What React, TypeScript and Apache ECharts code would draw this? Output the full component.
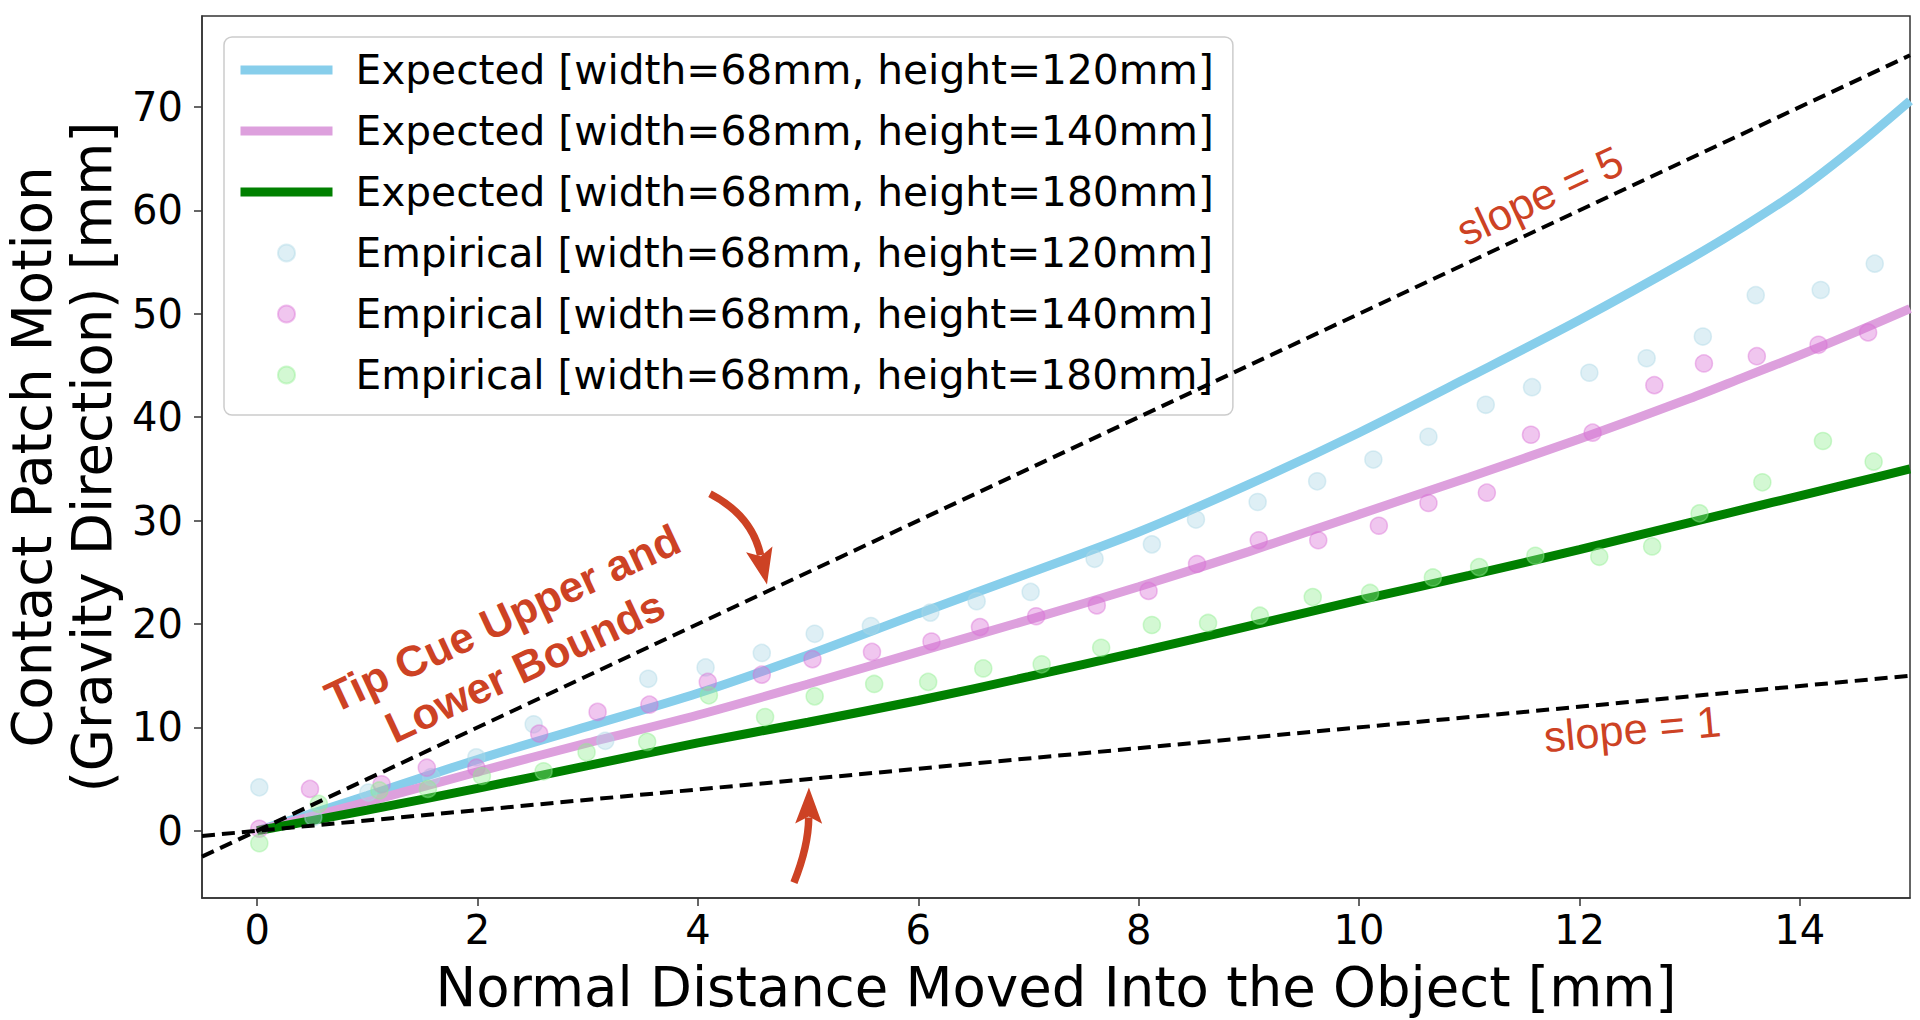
import React, { useEffect, useRef } from "react";
import * as echarts from "echarts";

// ---------- data ----------
const xTicks = [0, 2, 4, 6, 8, 10, 12, 14];
const yTicks = [0, 10, 20, 30, 40, 50, 60, 70];

const curveX = [0, 1, 2, 3, 4, 5, 6, 7, 8, 9, 10, 11, 12, 13, 13.5, 14, 14.5, 15];
const expected120 = [0, 3.4, 6.9, 10.1, 13.3, 17.0, 21.0, 24.9, 28.9, 33.5, 38.5, 43.9, 49.4, 55.3, 58.5, 62.0, 66.1, 70.6];
const expected140 = [0, 2.8, 5.7, 8.5, 11.2, 14.2, 17.3, 20.4, 23.6, 27.0, 30.6, 34.2, 37.9, 41.8, 43.9, 46.0, 48.2, 50.5];
const expected180 = [0, 2.0, 4.1, 6.3, 8.5, 10.5, 12.6, 14.9, 17.3, 19.8, 22.3, 24.7, 27.2, 29.8, 31.1, 32.4, 33.7, 35.0];

const emp120X = [0.02, 0.51, 1.01, 1.58, 1.99, 2.51, 3.16, 3.55, 4.07, 4.58, 5.06, 5.57, 6.11, 6.53, 7.02, 7.6, 8.12, 8.52, 9.08, 9.62, 10.13, 10.63, 11.15, 11.57, 12.09, 12.61, 13.12, 13.6, 14.19, 14.68];
const emp120Y = [4.2, 1.3, 3.7, 5.2, 7.1, 10.3, 8.7, 14.7, 15.8, 17.2, 19.05, 19.8, 21.1, 22.2, 23.1, 26.3, 27.7, 30.1, 31.8, 33.8, 35.9, 38.1, 41.2, 42.9, 44.3, 45.7, 47.8, 51.8, 52.3, 54.85];

const emp140X = [0.02, 0.48, 1.13, 1.54, 1.99, 2.56, 3.09, 3.56, 4.09, 4.58, 5.04, 5.58, 6.12, 6.56, 7.07, 7.62, 8.09, 8.53, 9.09, 9.63, 10.18, 10.63, 11.16, 11.56, 12.12, 12.68, 13.13, 13.61, 14.17, 14.62];
const emp140Y = [0.2, 4.05, 4.5, 6.1, 6.1, 9.4, 11.5, 12.2, 14.4, 15.1, 16.6, 17.3, 18.3, 19.7, 20.75, 21.8, 23.2, 25.8, 28.1, 28.1, 29.5, 31.7, 32.7, 38.3, 38.5, 43.1, 45.2, 45.9, 47.0, 48.2];

const emp180X = [0.02, 0.56, 1.11, 1.55, 2.04, 2.6, 2.99, 3.54, 4.1, 4.61, 5.06, 5.6, 6.09, 6.59, 7.12, 7.66, 8.12, 8.63, 9.1, 9.58, 10.1, 10.67, 11.09, 11.6, 12.18, 12.66, 13.09, 13.66, 14.21, 14.67];
const emp180Y = [-1.2, 2.6, 3.9, 4.05, 5.3, 5.75, 7.6, 8.6, 13.1, 11.0, 13.0, 14.2, 14.4, 15.7, 16.1, 17.7, 19.9, 20.1, 20.8, 22.6, 23.0, 24.5, 25.5, 26.6, 26.5, 27.5, 30.7, 33.7, 37.7, 35.7];

const boundX = [-0.5, 15];
const upperBound = [-2.5, 75];
const lowerBound = [-0.5, 15];

const names = [
  "Expected [width=68mm, height=120mm]",
  "Expected [width=68mm, height=140mm]",
  "Expected [width=68mm, height=180mm]",
  "Empirical [width=68mm, height=120mm]",
  "Empirical [width=68mm, height=140mm]",
  "Empirical [width=68mm, height=180mm]",
];

// annotation anchors in data coordinates
const upperArrow = { tail: [4.11, 32.6], ctrl: [4.49, 30.5], tip: [4.627, 23.82] };
const lowerArrow = { tail: [4.872, -5.01], ctrl: [5.004, -1.5], tip: [5.008, 4.18] };
const slope5Label = { text: "slope = 5", at: [11.64, 61.4], angle: 25 };
const slope1Label = { text: "slope = 1", at: [12.48, 9.83], angle: 5.2 };
const tipLabel = { text: "Tip Cue Upper and\nLower Bounds", at: [2.33, 18.2], angle: 25 };

const RED = "#cd4224";
const FONT = "DejaVu Sans";

const zip = (xs: number[], ys: number[]) => xs.map((x, i) => [x, ys[i]]);

export default function App() {
  const ref = useRef<HTMLDivElement>(null);

  useEffect(() => {
    if (!ref.current) return;
    const chart = echarts.init(ref.current, null, { renderer: "svg" });

    const lineSeries = (name: string, ys: number[], color: string) => ({
      name,
      type: "line",
      data: zip(curveX, ys),
      smooth: 0.3,
      symbol: "none",
      lineStyle: { color, width: 9 },
      itemStyle: { color },
      z: 2,
    });
    const scatterSeries = (name: string, xs: number[], ys: number[], rgb: string) => ({
      name,
      type: "scatter",
      data: zip(xs, ys),
      symbol: "circle",
      symbolSize: 17,
      itemStyle: { color: `rgba(${rgb},0.5)`, borderColor: `rgba(${rgb},0.55)`, borderWidth: 1.5 },
      z: 3,
    });
    const dashSeries = (name: string, ys: number[]) => ({
      name,
      type: "line",
      data: zip(boundX, ys),
      symbol: "none",
      lineStyle: { color: "#000", width: 4, type: [13, 7] },
      z: 4,
    });

    const option: any = {
      animation: false,
      backgroundColor: "#ffffff",
      grid: {
        left: 202,
        right: 10,
        top: 16,
        bottom: 122,
        show: true,
        borderColor: "#333",
        borderWidth: 1.5,
        backgroundColor: "transparent",
      },
      xAxis: {
        type: "value",
        min: -0.5,
        max: 15,
        axisLine: { show: true, onZero: false, lineStyle: { color: "#333", width: 1.5 } },
        axisTick: { show: true, length: 8, customValues: xTicks, lineStyle: { color: "#333", width: 1.5 } },
        axisLabel: { customValues: xTicks, fontSize: 40, fontFamily: FONT, color: "#000", margin: 12 },
        splitLine: { show: false },
        name: "Normal Distance Moved Into the Object [mm]",
        nameLocation: "middle",
        nameGap: 61,
        nameTextStyle: { fontSize: 54.5, fontFamily: FONT, color: "#000" },
      },
      yAxis: {
        type: "value",
        min: -6.5,
        max: 78.8,
        axisLine: { show: true, onZero: false, lineStyle: { color: "#333", width: 1.5 } },
        axisTick: { show: true, length: 8, customValues: yTicks, lineStyle: { color: "#333", width: 1.5 } },
        axisLabel: { customValues: yTicks, fontSize: 40, fontFamily: FONT, color: "#000", margin: 19 },
        splitLine: { show: false },
      },
      legend: {
        orient: "vertical",
        left: 224,
        top: 37,
        align: "left",
        padding: [10, 19, 17, 12],
        itemWidth: 92,
        itemHeight: 17,
        itemGap: 15,
        backgroundColor: "rgba(255,255,255,0.8)",
        borderColor: "#cccccc",
        borderWidth: 1.5,
        borderRadius: 8,
        selectedMode: false,
        lineStyle: { width: "inherit" },
        textStyle: { fontSize: 40.7, fontFamily: FONT, color: "#000", lineHeight: 46, padding: [0, 0, 0, 18] },
        data: [
          { name: names[0], itemStyle: { opacity: 0 } },
          { name: names[1], itemStyle: { opacity: 0 } },
          { name: names[2], itemStyle: { opacity: 0 } },
          { name: names[3] },
          { name: names[4] },
          { name: names[5] },
        ],
      },
      series: [
        lineSeries(names[0], expected120, "#87CEEB"),
        lineSeries(names[1], expected140, "#DDA0DD"),
        lineSeries(names[2], expected180, "#008000"),
        scatterSeries(names[3], emp120X, emp120Y, "173,216,230"),
        scatterSeries(names[4], emp140X, emp140Y, "218,112,214"),
        scatterSeries(names[5], emp180X, emp180Y, "144,238,144"),
        dashSeries("upper bound", upperBound),
        dashSeries("lower bound", lowerBound),
      ],
    };
    chart.setOption(option);

    const toPx = (p: number[]) => chart.convertToPixel({ gridIndex: 0 }, p) as number[];

    const arrow = (a: { tail: number[]; ctrl: number[]; tip: number[] }) => {
      const P0 = toPx(a.tail);
      const C = toPx(a.ctrl);
      const T = toPx(a.tip);
      const dx = T[0] - C[0];
      const dy = T[1] - C[1];
      const len = Math.hypot(dx, dy) || 1;
      const ux = dx / len;
      const uy = dy / len;
      const L = 36;
      const W = 13.5;
      const bx = T[0] - ux * L;
      const by = T[1] - uy * L;
      const px = -uy;
      const py = ux;
      return [
        {
          type: "bezierCurve",
          z: 100,
          shape: { x1: P0[0], y1: P0[1], cpx1: C[0], cpy1: C[1], x2: bx + ux * 6, y2: by + uy * 6 },
          style: { stroke: RED, lineWidth: 7.5, fill: "none" },
        },
        {
          type: "polygon",
          z: 100,
          shape: {
            points: [
              [T[0], T[1]],
              [bx + px * W, by + py * W],
              [bx + ux * 7, by + uy * 7],
              [bx - px * W, by - py * W],
            ],
          },
          style: { fill: RED },
        },
      ];
    };

    const label = (l: { text: string; at: number[]; angle: number }, font: string, extra: any = {}) => {
      const p = toPx(l.at);
      return {
        type: "text",
        z: 100,
        x: p[0],
        y: p[1],
        rotation: (l.angle * Math.PI) / 180,
        style: { text: l.text, font, fill: RED, align: "center", verticalAlign: "middle", ...extra },
      };
    };

    chart.setOption({
      graphic: {
        elements: [
          {
            type: "text",
            z: 100,
            x: 62,
            y: 457,
            rotation: Math.PI / 2,
            style: {
              text: "Contact Patch Motion\n(Gravity Direction) [mm]",
              font: `54.5px "${FONT}"`,
              fill: "#000",
              align: "center",
              verticalAlign: "middle",
              lineHeight: 60,
            },
          },
          ...arrow(upperArrow),
          ...arrow(lowerArrow),
          label(slope5Label, '43.5px "Liberation Sans"'),
          label(slope1Label, '43.5px "Liberation Sans"'),
          label(tipLabel, 'bold 43.5px "Liberation Sans"', { lineHeight: 53 }),
        ],
      },
    });

    return () => chart.dispose();
  }, []);

  return <div ref={ref} style={{ position: "fixed", left: 0, top: 0, width: 1920, height: 1020 }} />;
}
